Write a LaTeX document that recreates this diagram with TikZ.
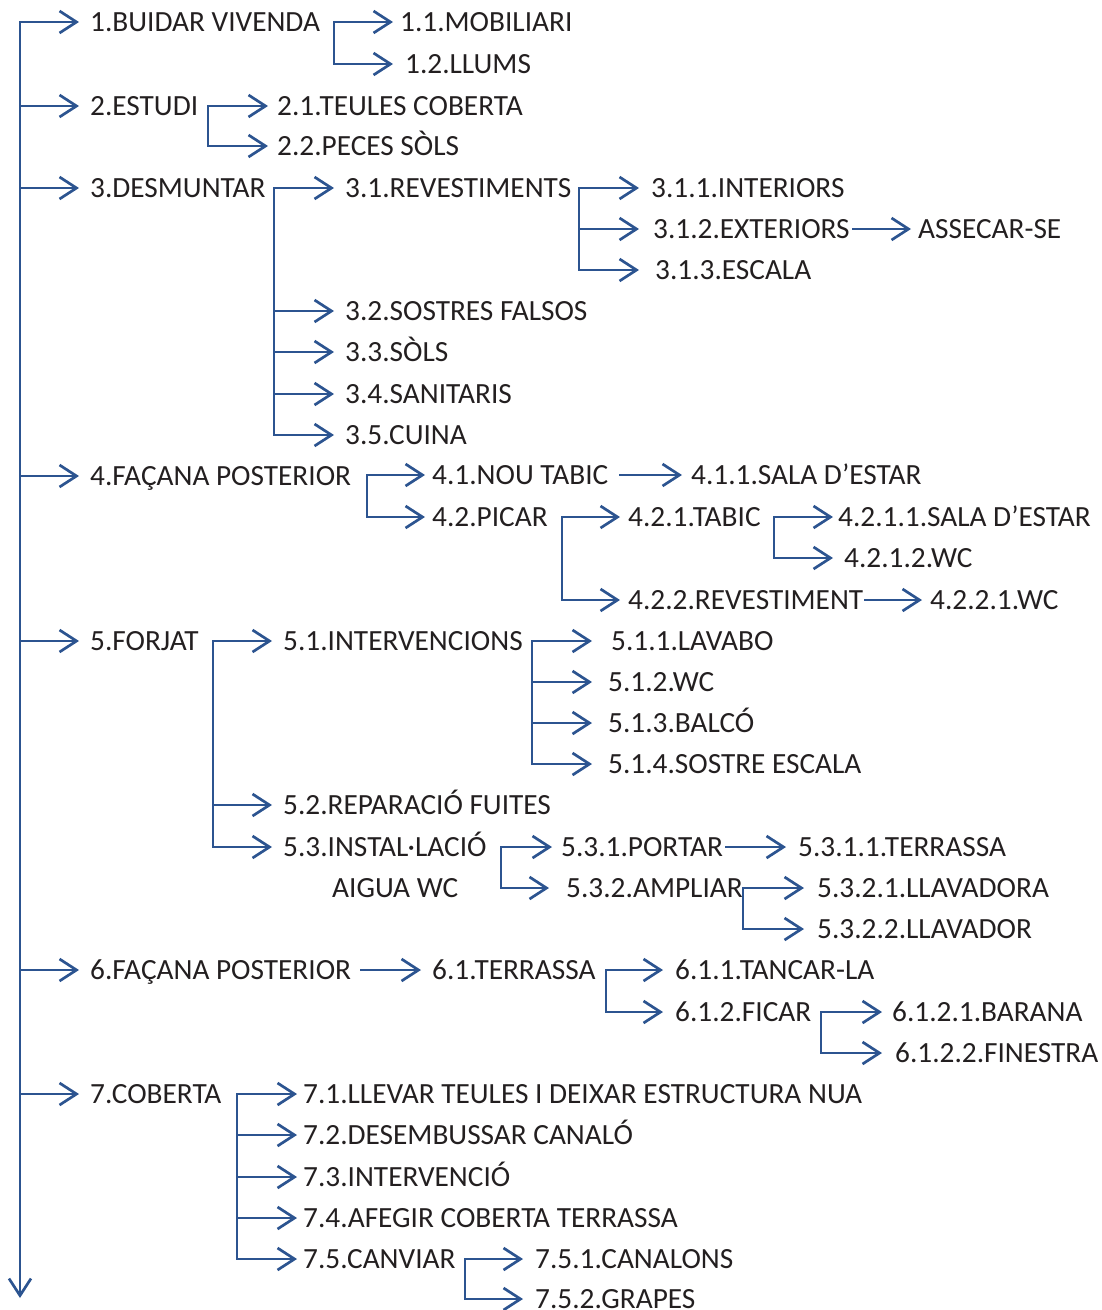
\documentclass[tikz,border=0pt]{standalone}
\usepackage{fontspec}
\setmainfont{Carlito}
\usetikzlibrary{arrows.meta}
\definecolor{linec}{RGB}{44,84,144}
\definecolor{txtc}{RGB}{35,31,32}
\newcommand{\lblfont}{\fontsize{29.3}{29.3}\selectfont}
\tikzset{
  lbl/.style={anchor=west, inner sep=0pt, text height=18.5pt, text depth=0pt, font=\lblfont, text=txtc},
  arr/.style={draw=linec, line width=2.5pt, line cap=rect, -{Straight Barb[length=17pt,width=22pt,line cap=butt,line join=miter,line width=2.7pt]}},
}
\begin{document}
\begin{tikzpicture}[x=1pt,y=-1pt]
\useasboundingbox (0,0) rectangle (1102,1310);
% level 1
\node[lbl] (n1) at (90,22) {1.BUIDAR VIVENDA};
\node[lbl] (n2) at (90,106) {2.ESTUDI};
\node[lbl] (n3) at (90,188) {3.DESMUNTAR};
\node[lbl] (n4) at (90,476) {4.FAÇANA POSTERIOR};
\node[lbl] (n5) at (90,641) {5.FORJAT};
\node[lbl] (n6) at (90,970) {6.FAÇANA POSTERIOR};
\node[lbl] (n7) at (90,1094) {7.COBERTA};
% group 1
\node[lbl] (n11) at (400,22) {1.1.MOBILIARI};
\node[lbl] (n12) at (405,64) {1.2.LLUMS};
% group 2
\node[lbl] (n21) at (277,106) {2.1.TEULES COBERTA};
\node[lbl] (n22) at (277,146) {2.2.PECES SÒLS};
% group 3
\node[lbl] (n31) at (345,188) {3.1.REVESTIMENTS};
\node[lbl] (n32) at (345,311) {3.2.SOSTRES FALSOS};
\node[lbl] (n33) at (345,352) {3.3.SÒLS};
\node[lbl] (n34) at (345,394) {3.4.SANITARIS};
\node[lbl] (n35) at (345,435) {3.5.CUINA};
\node[lbl] (n311) at (651,188) {3.1.1.INTERIORS};
\node[lbl] (n312) at (653,229) {3.1.2.EXTERIORS};
\node[lbl] (n313) at (655,270) {3.1.3.ESCALA};
\node[lbl] (n3121) at (918,229) {ASSECAR-SE};
% group 4
\node[lbl] (n41) at (432,475) {4.1.NOU TABIC};
\node[lbl] (n42) at (432,517) {4.2.PICAR};
\node[lbl] (n411) at (691,475) {4.1.1.SALA D’ESTAR};
\node[lbl] (n421) at (628,517) {4.2.1.TABIC};
\node[lbl] (n422) at (628,600) {4.2.2.REVESTIMENT};
\node[lbl] (n4211) at (838,517) {4.2.1.1.SALA D’ESTAR};
\node[lbl] (n4212) at (844,558) {4.2.1.2.WC};
\node[lbl] (n4221) at (930,600) {4.2.2.1.WC};
% group 5
\node[lbl] (n51) at (283,641) {5.1.INTERVENCIONS};
\node[lbl] (n52) at (283,805) {5.2.REPARACIÓ FUITES};
\node[lbl] (n53) at (283,847) {5.3.INSTAL·LACIÓ};
\node[lbl] (n53b) at (332,888) {AIGUA WC};
\node[lbl] (n511) at (611,641) {5.1.1.LAVABO};
\node[lbl] (n512) at (608,682) {5.1.2.WC};
\node[lbl] (n513) at (608,723) {5.1.3.BALCÓ};
\node[lbl] (n514) at (608,764) {5.1.4.SOSTRE ESCALA};
\node[lbl] (n531) at (561,847) {5.3.1.PORTAR};
\node[lbl] (n532) at (566,888) {5.3.2.AMPLIAR};
\node[lbl] (n5311) at (798,847) {5.3.1.1.TERRASSA};
\node[lbl] (n5321) at (817,888) {5.3.2.1.LLAVADORA};
\node[lbl] (n5322) at (817,929) {5.3.2.2.LLAVADOR};
% group 6
\node[lbl] (n61) at (432,970) {6.1.TERRASSA};
\node[lbl] (n611) at (675,970) {6.1.1.TANCAR-LA};
\node[lbl] (n612) at (675,1012) {6.1.2.FICAR};
\node[lbl] (n6121) at (892,1012) {6.1.2.1.BARANA};
\node[lbl] (n6122) at (895,1053) {6.1.2.2.FINESTRA};
% group 7
\node[lbl] (n71) at (303,1094) {7.1.LLEVAR TEULES I DEIXAR ESTRUCTURA NUA};
\node[lbl] (n72) at (303,1135) {7.2.DESEMBUSSAR CANALÓ};
\node[lbl] (n73) at (303,1177) {7.3.INTERVENCIÓ};
\node[lbl] (n74) at (303,1218) {7.4.AFEGIR COBERTA TERRASSA};
\node[lbl] (n75) at (303,1259) {7.5.CANVIAR};
\node[lbl] (n751) at (535,1259) {7.5.1.CANALONS};
\node[lbl] (n752) at (535,1299) {7.5.2.GRAPES};
% bracket corners
\coordinate (top) at (20,22);
\coordinate (bot) at (20,1298);
\coordinate (b1) at (334,22);
\coordinate (b2) at (208,106);
\coordinate (b3) at (274,188);
\coordinate (b31) at (579,188);
\coordinate (b4) at (367,475);
\coordinate (b42) at (562,517);
\coordinate (b421) at (774,517);
\coordinate (b5) at (213,641);
\coordinate (b51) at (532,641);
\coordinate (b53) at (501,847);
\coordinate (b532) at (743,888);
\coordinate (b61) at (606,970);
\coordinate (b612) at (821,1012);
\coordinate (b7) at (237,1094);
\coordinate (b75) at (465,1259);
% main trunk
\draw[arr] (top) -- (bot);
\foreach \n in {n1,n2,n3,n4,n5,n6,n7} \draw[arr] (top) |- ([xshift=-11pt]\n.west);
% group 1
\draw[arr] (b1) |- ([xshift=-7pt]n11.west);
\draw[arr] (b1) |- ([xshift=-12pt]n12.west);
% group 2
\foreach \n in {n21,n22} \draw[arr] (b2) |- ([xshift=-9pt]\n.west);
% group 3
\foreach \n in {n31,n32,n33,n34,n35} \draw[arr] (b3) |- ([xshift=-11pt]\n.west);
\draw[arr] (b31) |- ([xshift=-12pt]n311.west);
\draw[arr] (b31) |- ([xshift=-14pt]n312.west);
\draw[arr] (b31) |- ([xshift=-16pt]n313.west);
\draw[arr] ([xshift=3pt]n312.east) -- ([xshift=-7pt]n3121.west);
% group 4
\foreach \n in {n41,n42} \draw[arr] (b4) |- ([xshift=-7pt]\n.west);
\draw[arr] ([xshift=12pt]n41.east) -- ([xshift=-9pt]n411.west);
\foreach \n in {n421,n422} \draw[arr] (b42) |- ([xshift=-8pt]\n.west);
\draw[arr] (b421) |- ([xshift=-5pt]n4211.west);
\draw[arr] (b421) |- ([xshift=-11pt]n4212.west);
\draw[arr] ([xshift=2pt]n422.east) -- ([xshift=-8pt]n4221.west);
% group 5
\foreach \n in {n51,n52,n53} \draw[arr] (b5) |- ([xshift=-11pt]\n.west);
\draw[arr] (b51) |- ([xshift=-19pt]n511.west);
\foreach \n in {n512,n513,n514} \draw[arr] (b51) |- ([xshift=-16pt]\n.west);
\draw[arr] (b53) |- ([xshift=-9pt]n531.west);
\draw[arr] (b53) |- ([xshift=-17pt]n532.west);
\draw[arr] ([xshift=3pt]n531.east) -- ([xshift=-12pt]n5311.west);
\foreach \n in {n5321,n5322} \draw[arr] (b532) |- ([xshift=-13pt]\n.west);
% group 6
\draw[arr] ([xshift=10pt]n6.east) -- ([xshift=-11pt]n61.west);
\foreach \n in {n611,n612} \draw[arr] (b61) |- ([xshift=-12pt]\n.west);
\draw[arr] (b612) |- ([xshift=-10pt]n6121.west);
\draw[arr] (b612) |- ([xshift=-13pt]n6122.west);
% group 7
\foreach \n in {n71,n72,n73,n74,n75} \draw[arr] (b7) |- ([xshift=-6pt]\n.west);
\foreach \n in {n751,n752} \draw[arr] (b75) |- ([xshift=-12pt]\n.west);
\end{tikzpicture}
\end{document}
